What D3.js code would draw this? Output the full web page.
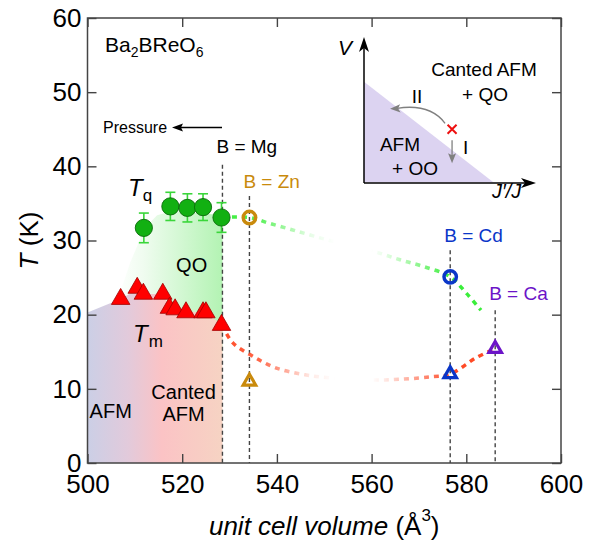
<!DOCTYPE html>
<html><head><meta charset="utf-8">
<script src="https://cdn.jsdelivr.net/npm/d3@7"></script>
<style>html,body{margin:0;padding:0;background:#fff}svg{display:block}text{font-family:"Liberation Sans",Arial,Helvetica,sans-serif}</style>
</head><body>
<script>
// ---- data ----
const tqVol = [511.9, 517.5, 521.1, 524.4, 528.3];
const tqT   = [31.7, 34.6, 34.4, 34.5, 33.1];
const tqErr = [2.0, 1.9, 1.9, 1.8, 2.0];

const tmVol = [507.0, 510.5, 511.8, 515.9, 517.3, 518.5, 520.8, 524.4, 525.0, 528.3];
const tmT   = [22.1, 23.6, 22.8, 22.8, 20.9, 20.7, 20.3, 20.3, 20.3, 18.6];

const compounds   = ["B = Mg", "B = Zn", "B = Cd", "B = Ca"];
const compoundVol = [528.5, 534.2, 576.6, 586.1];
const compoundTop = [40.2, 36.0, 28.7, 20.6];
const compoundColor = ["#000000", "#c98a0c", "#0a36c8", "#6c14c8"];

const openCircleVol = [534.2, 576.6];
const openCircleT   = [33.1, 25.1];
const openCircleColor = ["#c98a0c", "#0a36c8"];
const openTriVol = [534.2, 576.6, 586.1];
const openTriT   = [11.0, 12.0, 15.4];
const openTriColor = ["#c98a0c", "#0a36c8", "#6c14c8"];

const greenGuideVol = [528.4, 534.2, 538.5, 544, 550, 556, 561.1, 566, 570.9, 576.6, 580, 583.1];
const greenGuideT   = [33.1, 33.1, 32.3, 31.3, 30.2, 29.2, 28.4, 27.4, 26.5, 25.1, 22.9, 20.6];
const redGuideVol = [528.4, 530.7, 534.9, 539.9, 546.9, 555, 562.8, 572.3, 576.6, 582.1, 586.1];
const redGuideT   = [18.6, 16.2, 14.4, 12.8, 11.8, 11.3, 11.2, 11.6, 12.0, 14.2, 15.4];

const lowerRegionVol = [500, 500, 507, 510.5, 512, 516, 517.3, 519, 525, 528.5, 528.5];
const lowerRegionT   = [0, 20.3, 22.1, 23.4, 22.8, 22.8, 20.9, 20.5, 20.3, 18.6, 0];
const qoRegionVol = [505, 507, 509, 511, 513, 514.7, 517, 520, 528.5, 528.5, 505];
const qoRegionT   = [21.0, 23.2, 27.0, 30.0, 32.3, 33.4, 33.8, 33.9, 33.4, 15, 15];

const xTicks = [500, 520, 540, 560, 580, 600];
const yTicks = [0, 10, 20, 30, 40, 50, 60];

// ---- setup ----
const W = 595, H = 546;
const svg = d3.select("body").append("svg").attr("width", W).attr("height", H);
const x = d3.scaleLinear().domain([500, 600]).range([87.5, 561]);
const y = d3.scaleLinear().domain([0, 60]).range([463, 18]);
const FONT = '"Liberation Sans",Arial,Helvetica,sans-serif';

const defs = svg.append("defs");
function hgrad(id, stops, x1, x2) {
  const g = defs.append("linearGradient").attr("id", id)
    .attr("gradientUnits", "userSpaceOnUse")
    .attr("x1", x1).attr("x2", x2).attr("y1", 0).attr("y2", 0);
  stops.forEach(s => g.append("stop").attr("offset", s[0]).attr("stop-color", s[1]).attr("stop-opacity", s[2] === undefined ? 1 : s[2]));
}
hgrad("lowGrad", [[0, "#cbcfe6"], [0.3, "#e2cadb"], [0.55, "#fbc3c5"], [1, "#f6d3c3"]], x(500), x(528.5));
hgrad("qoGrad", [[0, "#ffffff"], [0.25, "#f0fcf0"], [1, "#b3f3b3"]], x(506), x(528.5));
const fadeStops = c => [[0, c, 1], [0.14, c, 0.85], [0.33, c, 0.12], [0.42, c, 0], [0.55, c, 0], [0.6, c, 0.12], [0.84, c, 1], [1, c, 1]];
hgrad("greenFade", fadeStops("#3aee3a"), x(528), x(586));
hgrad("redFade", fadeStops("#ff4a26"), x(528), x(586));

// ---- regions ----
const area = (vs, ts) => d3.line().x((d, i) => x(vs[i])).y((d, i) => y(ts[i])).curve(d3.curveLinearClosed)(vs);
const smoothArea = (vs, ts) => d3.line().x((d, i) => x(vs[i])).y((d, i) => y(ts[i])).curve(d3.curveCatmullRomClosed.alpha(0.5))(vs);
svg.append("path").attr("d", area(qoRegionVol, qoRegionT)).attr("fill", "url(#qoGrad)");
svg.append("path").attr("d", area(lowerRegionVol, lowerRegionT)).attr("fill", "url(#lowGrad)");

// ---- vertical dashed lines ----
svg.append("g").selectAll("line").data(compoundVol).join("line")
  .attr("x1", d => x(d)).attr("x2", d => x(d))
  .attr("y1", (d, i) => y(compoundTop[i])).attr("y2", y(0))
  .attr("stroke", "#444").attr("stroke-width", 1.4).attr("stroke-dasharray", "4,3");

// ---- guide curves ----
const guide = (vs, ts) => d3.line().x((d, i) => x(vs[i])).y((d, i) => y(ts[i])).curve(d3.curveCatmullRom.alpha(0.5))(vs);
svg.append("path").attr("d", guide(greenGuideVol, greenGuideT)).attr("fill", "none")
  .attr("stroke", "url(#greenFade)").attr("stroke-width", 3.5).attr("stroke-dasharray", "5,5");
svg.append("path").attr("d", guide(redGuideVol, redGuideT)).attr("fill", "none")
  .attr("stroke", "url(#redFade)").attr("stroke-width", 3.5).attr("stroke-dasharray", "5,5");

// ---- error bars ----
const eb = svg.append("g").attr("stroke", "#3ad63a").attr("stroke-width", 1.6);
tqVol.forEach((v, i) => {
  const cx = x(v), y1 = y(tqT[i] - tqErr[i]), y2 = y(tqT[i] + tqErr[i]);
  eb.append("line").attr("x1", cx).attr("x2", cx).attr("y1", y1).attr("y2", y2);
  eb.append("line").attr("x1", cx - 5).attr("x2", cx + 5).attr("y1", y1).attr("y2", y1);
  eb.append("line").attr("x1", cx - 5).attr("x2", cx + 5).attr("y1", y2).attr("y2", y2);
});

// ---- Tq circles ----
svg.append("g").selectAll("circle").data(tqVol).join("circle")
  .attr("cx", d => x(d)).attr("cy", (d, i) => y(tqT[i])).attr("r", 8.6)
  .attr("fill", "#12b012").attr("stroke", "#0a6a0a").attr("stroke-width", 0.9);

// ---- Tm triangles ----
function triPath(s) {
  const h = s * Math.sqrt(3) / 2;
  return `M0,${-2 * h / 3}L${s / 2},${h / 3}L${-s / 2},${h / 3}Z`;
}
svg.append("g").selectAll("path").data(tmVol).join("path")
  .attr("d", triPath(18.5))
  .attr("transform", (d, i) => `translate(${x(d)},${y(tmT[i])})`)
  .attr("fill", "#ff0000").attr("stroke", "#a00000").attr("stroke-width", 0.8);

// ---- open markers ----
svg.append("g").selectAll("circle").data(openCircleVol).join("circle")
  .attr("cx", d => x(d)).attr("cy", (d, i) => y(openCircleT[i])).attr("r", 6.2)
  .attr("fill", "none").attr("stroke", (d, i) => openCircleColor[i]).attr("stroke-width", 3.5);
svg.append("g").selectAll("path").data(openTriVol).join("path")
  .attr("d", triPath(12.5))
  .attr("transform", (d, i) => `translate(${x(d)},${y(openTriT[i])})`)
  .attr("fill", "none").attr("stroke", (d, i) => openTriColor[i]).attr("stroke-width", 3.2)
  .attr("stroke-linejoin", "miter");

// ---- compound labels ----
const labelT = [41.8, 37.1, 29.8, 22.0];
svg.append("g").selectAll("text").data(compounds).join("text")
  .attr("x", (d, i) => x(compoundVol[i]) - 6).attr("y", (d, i) => y(labelT[i]))
  .attr("font-size", 19).attr("fill", (d, i) => compoundColor[i]).text(d => d);

// ---- region / phase labels ----
function txt(xx, yy, s, size, anchor) {
  return svg.append("text").attr("x", xx).attr("y", yy).attr("font-size", size)
    .attr("text-anchor", anchor || "start").text(s);
}
txt(x(522), y(25.8), "QO", 20, "middle");
txt(x(504.9), y(6.1), "AFM", 20, "middle");
txt(x(520.3), y(8.6), "Canted", 20, "middle");
txt(x(520.3), y(5.7), "AFM", 20, "middle");

// Tq, Tm
const tq = svg.append("text").attr("x", 128).attr("y", 196).attr("font-size", 24);
tq.append("tspan").attr("font-style", "italic").text("T");
tq.append("tspan").attr("font-size", 17).attr("dy", 5).text("q");
const tm = svg.append("text").attr("x", 133).attr("y", 342).attr("font-size", 24);
tm.append("tspan").attr("font-style", "italic").text("T");
tm.append("tspan").attr("font-size", 17).attr("dy", 5).attr("dx", 1).text("m");

// Ba2BReO6
const f = svg.append("text").attr("x", 105).attr("y", 52).attr("font-size", 21);
f.append("tspan").text("Ba");
f.append("tspan").attr("font-size", 14).attr("dy", 5).text("2");
f.append("tspan").attr("dy", -5).text("BReO");
f.append("tspan").attr("font-size", 14).attr("dy", 5).text("6");

// Pressure arrow
txt(103, 133, "Pressure", 16);
svg.append("line").attr("x1", 222).attr("x2", 180).attr("y1", 127.5).attr("y2", 127.5).attr("stroke", "#000").attr("stroke-width", 1.3);
svg.append("path").attr("d", "M172,127.5L183,123.5L181,127.5L183,131.5Z").attr("fill", "#000");

// ---- axes ----
const gx = svg.append("g").attr("transform", `translate(0,${y(0)})`)
  .call(d3.axisBottom(x).tickValues(xTicks).tickSizeInner(-9).tickSizeOuter(0).tickPadding(12));
const gy = svg.append("g").attr("transform", `translate(${x(500)},0)`)
  .call(d3.axisLeft(y).tickValues(yTicks).tickSizeInner(-9).tickSizeOuter(0).tickPadding(6));
const gxt = svg.append("g").attr("transform", `translate(0,${y(60)})`)
  .call(d3.axisTop(x).tickValues(xTicks).tickSizeInner(-9).tickSizeOuter(0).tickFormat(""));
const gyr = svg.append("g").attr("transform", `translate(${x(600)},0)`)
  .call(d3.axisRight(y).tickValues(yTicks).tickSizeInner(-9).tickSizeOuter(0).tickFormat(""));
[gx, gy, gxt, gyr].forEach(g => {
  g.select(".domain").remove();
  g.selectAll(".tick line").attr("stroke", "#444").attr("stroke-width", 1.4);
  g.selectAll("text").attr("font-size", 26).attr("font-family", FONT).attr("fill", "#000");
});
svg.append("rect").attr("x", x(500)).attr("y", y(60)).attr("width", x(600) - x(500)).attr("height", y(0) - y(60))
  .attr("fill", "none").attr("stroke", "#444").attr("stroke-width", 1.5);

// axis titles
const xl = svg.append("text").attr("x", (x(500) + x(600)) / 2).attr("y", 535).attr("font-size", 26).attr("text-anchor", "middle");
xl.append("tspan").attr("font-style", "italic").text("unit cell volume");
xl.append("tspan").text(" (Å");
xl.append("tspan").attr("font-size", 17).attr("dy", -14).text("3");
xl.append("tspan").attr("dy", 14).text(")");
const yl = svg.append("text").attr("transform", `translate(38,${(y(0) + y(60)) / 2}) rotate(-90)`)
  .attr("font-size", 26).attr("text-anchor", "middle");
yl.append("tspan").attr("font-style", "italic").text("T");
yl.append("tspan").text(" (K)");

// ---- inset schematic ----
const ix = d3.scaleLinear().domain([0, 1]).range([364, 536]);
const iy = d3.scaleLinear().domain([0, 1]).range([183, 37]);
const inset = svg.append("g");
inset.append("path")
  .attr("d", `M${ix(0)},${iy(0.694)}L${ix(0.752)},${iy(0.005)}L${ix(0)},${iy(0.005)}Z`)
  .attr("fill", "#dcd3f1");
inset.append("line").attr("x1", ix(0)).attr("x2", ix(0)).attr("y1", iy(0)).attr("y2", iy(0.93)).attr("stroke", "#000").attr("stroke-width", 1.5);
inset.append("line").attr("x1", ix(0)).attr("x2", ix(0.95)).attr("y1", iy(0)).attr("y2", iy(0)).attr("stroke", "#000").attr("stroke-width", 1.5);
inset.append("path").attr("d", `M${ix(0)},${iy(1)}l-5,15l5,-4l5,4Z`).attr("fill", "#000");
inset.append("path").attr("d", `M${ix(1)},${iy(0)}l-15,-5l4,5l-4,5Z`).attr("fill", "#000");
// red cross
const cxp = ix(0.512), cyp = iy(0.368);
inset.append("path").attr("d", `M${cxp - 4.5},${cyp - 4.5}L${cxp + 4.5},${cyp + 4.5}M${cxp + 4.5},${cyp - 4.5}L${cxp - 4.5},${cyp + 4.5}`)
  .attr("stroke", "#ee1010").attr("stroke-width", 2);
// arrow I
inset.append("line").attr("x1", cxp).attr("x2", cxp).attr("y1", cyp + 11).attr("y2", cyp + 27).attr("stroke", "#808080").attr("stroke-width", 1.3);
inset.append("path").attr("d", `M${cxp},${cyp + 34}l-4,-10l4,2l4,-2Z`).attr("fill", "#808080");
// arrow II
inset.append("path").attr("d", `M${cxp - 7},${cyp - 6}Q${cxp - 22},${cyp - 26} ${cxp - 55},${cyp - 21}`)
  .attr("fill", "none").attr("stroke", "#808080").attr("stroke-width", 1.3);
inset.append("path").attr("d", `M${cxp - 62},${cyp - 20.5}l10,-4.5l-2,4.2l2.5,4Z`).attr("fill", "#808080");
// inset labels
const itxt = (xx, yy, s, anchor, italic) => inset.append("text").attr("x", xx).attr("y", yy).attr("font-size", 19)
  .attr("text-anchor", anchor || "start").attr("font-style", italic ? "italic" : "normal").text(s);
itxt(484, 75.5, "Canted AFM", "middle");
itxt(485, 100.5, "+ QO", "middle");
itxt(400, 151, "AFM", "middle");
itxt(415, 175, "+ OO", "middle");
itxt(417, 103, "II", "middle");
itxt(463, 154, "I", "start");
inset.append("text").attr("x", 338).attr("y", 55).attr("font-size", 21).attr("font-style", "italic").text("V");
inset.append("text").attr("x", 492).attr("y", 198).attr("font-size", 20).attr("font-style", "italic").text("J′/J");
</script>
</body></html>
